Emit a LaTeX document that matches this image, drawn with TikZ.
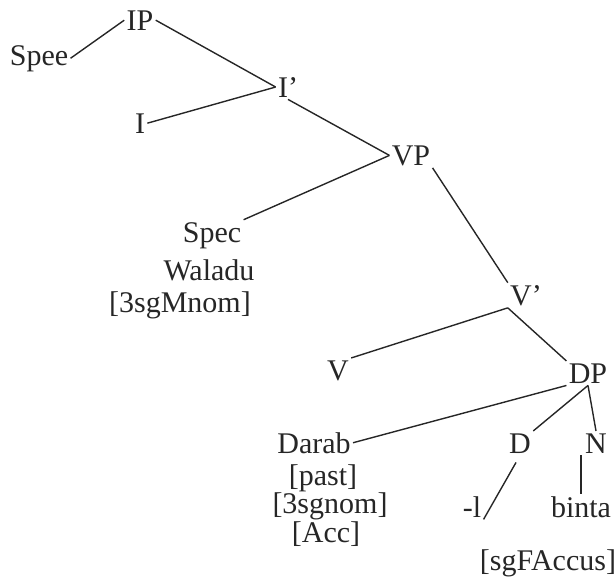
\documentclass[tikz,border=0pt]{standalone}
\usepackage{fontspec}
\setmainfont{Liberation Serif}

\begin{document}
\begin{tikzpicture}[x=0.5pt,y=-0.5pt,
    lbl/.style={anchor=base,inner sep=1pt,text=black!85,
      font=\fontsize{15}{18}\selectfont},
    branch/.style={line width=0.7pt,black!85}]
    %initialisation
    \useasboundingbox (0,0) rectangle (616,585);
    %definitions
    \node[lbl] (IP) at (140,30) {IP};
    \node[lbl] (SpecIP) at (39,65) {Spee};
    \node[lbl] (Ibar) at (288,97) {I’};
    \node[lbl] (I) at (140,133) {I};
    \node[lbl] (VP) at (411,165) {VP};
    \node[lbl] (SpecVP) at (212,242) {Spec};
    \node[lbl] (Waladu) at (209,280) {Waladu};
    \node[lbl] (Mnom) at (180,312) {[3sgMnom]};
    \node[lbl] (Vbar) at (526,305) {V’};
    \node[lbl] (V) at (338,380) {V};
    \node[lbl] (DP) at (588,383) {DP};
    \node[lbl] (Darab) at (314,453) {Darab};
    \node[lbl] (past) at (323,485) {[past]};
    \node[lbl] (sgnom) at (330,513) {[3sgnom]};
    \node[lbl] (Acc) at (326,542) {[Acc]};
    \node[lbl] (D) at (520,453) {D};
    \node[lbl] (N) at (596,453) {N};
    \node[lbl] (l) at (472,517) {-l};
    \node[lbl] (binta) at (581,517) {binta};
    \node[lbl] (sgF) at (548,570) {[sgFAccus]};
    %branches
    \draw[branch] (IP.west) -- (SpecIP.east);
    \draw[branch] (IP.east) -- (Ibar.west);
    \draw[branch] (I.east) -- (Ibar.west);
    \draw[branch] (Ibar.south) -- (VP.west);
    \draw[branch] (VP.west) -- (SpecVP.north east);
    \draw[branch] (VP.south east) -- (Vbar.north west);
    \draw[branch] (Vbar.south west) -- (V.north east);
    \draw[branch] (Vbar.south west) -- (DP.north west);
    \draw[branch] (DP.south west) -- (Darab.east);
    \draw[branch] (DP.south) -- (D.north east);
    \draw[branch] (DP.south) -- (N.north);
    \draw[branch,shorten <=4pt] (D.south) -- (l.south east);
    \draw[branch] (binta.north) -- (binta.north |- N.south);
\end{tikzpicture}
\end{document}
